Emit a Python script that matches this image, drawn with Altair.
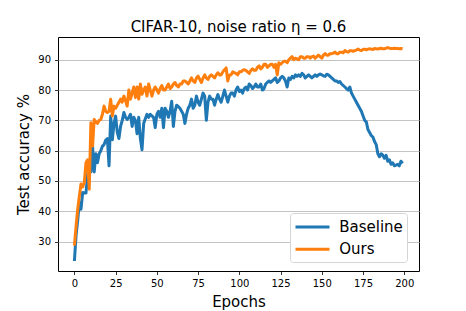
import altair as alt
import pandas as pd

epochs = list(range(200))

baseline = [
    23.6, 32, 37, 43, 40.7, 46.2, 46, 46, 52, 55,
    53, 61.5, 53, 59, 56, 59, 60, 61.5, 62, 63.5,
    64, 55, 71.4, 63.6, 69, 71.4, 66, 64, 68, 70,
    72.6, 71, 70.3, 71, 72, 68, 71, 70, 65.6, 71,
    64, 60.3, 69, 70.5, 72, 71, 72, 71.5, 71, 67.6,
    72, 73, 71, 74, 67.6, 74, 73, 71, 73, 76.3,
    68, 73, 75, 74.5, 74, 73, 72, 69, 72, 74,
    75, 77, 74, 75, 78, 76, 75, 77, 79, 78,
    70, 76, 78, 77, 77, 75, 77, 78.5, 77, 76,
    78, 80, 78, 76, 78, 79, 79, 78, 80, 81,
    79.5, 80, 79, 80.5, 81, 80, 82, 81.5, 80.5, 81,
    82, 81, 81, 82, 80, 80.5, 82, 82.5, 83, 82.5,
    83, 83.5, 84, 82.5, 83, 84, 84.5, 84, 83, 81,
    84, 83.5, 84.5, 84, 85, 84.5, 85, 84.5, 85.5, 85,
    84, 84.5, 85, 84.5, 84, 84.5, 85, 84.5, 85, 85.3,
    85, 84.7, 84.5, 85.2, 85, 84.5, 84, 83.5, 83, 83,
    82.5, 82.8, 82, 81.5, 81, 80.5, 80, 81, 79, 78,
    77, 76, 75, 74, 73, 71.5, 70, 69.5, 67, 66,
    65, 64.5, 63, 62, 59, 58, 59, 58.5, 57.5, 58.5,
    56.5, 57, 55.5, 56, 55, 55.2, 55.5, 55, 56.5, 55.8,
]

ours = [
    28.7, 35, 40.7, 45, 49, 48, 49.5, 56, 57, 47.3,
    69.2, 61.5, 70.3, 69.5, 69, 70, 70.3, 72, 74.7, 73,
    72.6, 73, 77, 71.4, 74.7, 74, 75, 76, 77, 76,
    78, 76.5, 74.7, 80, 77, 79, 81, 77.5, 81, 77,
    82, 78.6, 80, 81, 78, 82, 80, 78, 80, 81,
    80, 79, 80.5, 81.5, 80, 80, 81, 82, 80.5, 81,
    82, 82.5, 81.5, 81, 82, 82, 83, 83, 82.5, 82,
    83, 84, 83, 82.5, 84, 84.6, 83.5, 82.5, 84, 85,
    84, 83.5, 84.5, 85, 84.5, 84, 85, 85.7, 85, 85,
    86, 86.7, 87.3, 83, 85, 85, 86, 85.7, 85.5, 85,
    86, 86, 86.5, 86.7, 86.5, 86, 85.5, 86.5, 87, 86.5,
    86.5, 87.5, 88, 87, 87.5, 88.5, 88.5, 87.5, 88, 88.5,
    88.5, 87.5, 88.5, 85, 89, 88.5, 89, 89.5, 89.5, 89,
    90, 90.5, 91, 90, 90.5, 90.3, 90, 91, 91, 90.5,
    90.5, 91, 91, 90.5, 91, 91.2, 90.5, 91, 91.5, 91,
    90.5, 91.5, 92, 91.5, 91.5, 92, 92, 92.2, 92.5, 92,
    92, 92.5, 92.5, 92.3, 93, 92.7, 92.5, 93, 93, 92.8,
    93, 93.2, 93.5, 93.2, 93, 93.4, 93.5, 93.3, 93.5, 93.6,
    93.5, 93.4, 93.7, 93.6, 93.5, 93.7, 93.8, 93.6, 93.6, 93.8,
    94, 93.8, 93.7, 93.7, 93.8, 93.7, 93.7, 93.6, 93.7, 93.6,
]

series_names = ["Baseline", "Ours"]
series_colors = ["#1f77b4", "#ff7f0e"]
x_ticks = [0, 25, 50, 75, 100, 125, 150, 175, 200]
y_ticks = [30, 40, 50, 60, 70, 80, 90]

df = pd.DataFrame({
    "epoch": epochs + epochs,
    "acc": baseline + ours,
    "series": ["Baseline"] * len(epochs) + ["Ours"] * len(epochs),
    "order": [0] * len(epochs) + [1] * len(epochs),
})

FONT = "DejaVu Sans"

chart = alt.Chart(df).mark_line(strokeWidth=3, strokeJoin="round").encode(
    x=alt.X(
        "epoch:Q",
        scale=alt.Scale(domain=[-9.95, 208.95], nice=False, zero=False),
        axis=alt.Axis(
            values=x_ticks, title="Epochs", grid=False, domain=False,
            tickColor="black", tickSize=3.5, tickWidth=0.8,
            labelFont=FONT, labelFontSize=10, labelColor="black", labelPadding=4,
            titleFont=FONT, titleFontSize=15, titleFontWeight="normal", titleColor="black",
            titleX=180.5, titleY=35.7, titleBaseline="alphabetic", titleAlign="center",
        ),
    ),
    y=alt.Y(
        "acc:Q",
        scale=alt.Scale(domain=[20.3, 97.5], nice=False, zero=False),
        axis=alt.Axis(
            values=y_ticks, title="Test accuracy %", grid=True, domain=False,
            gridColor="#c4c4c4", gridWidth=1,
            tickColor="black", tickSize=3.5, tickWidth=0.8,
            labelFont=FONT, labelFontSize=10, labelColor="black", labelPadding=4,
            titleFont=FONT, titleFontSize=15, titleFontWeight="normal", titleColor="black",
            titleX=-29.8, titleY=117, titleAngle=270, titleBaseline="alphabetic",
            titleAlign="center",
        ),
    ),
    color=alt.Color(
        "series:N",
        scale=alt.Scale(domain=series_names, range=series_colors),
        legend=alt.Legend(
            title=None, orient="none", legendX=232, legendY=176,
            symbolType="M-2,0H2", symbolSize=289, symbolStrokeWidth=3,
            symbolOffset=8.5,
            labelFont=FONT, labelFontSize=15, labelColor="black", labelOffset=16.7,
            fillColor="white", strokeColor="#d4d4d4", cornerRadius=3, padding=4,
            rowPadding=4.2,
        ),
    ),
    order="order:Q",
).properties(
    width=361,
    height=234,
    title=alt.TitleParams(
        "CIFAR-10, noise ratio η = 0.6",
        font=FONT, fontSize=15, fontWeight="normal", color="black",
        anchor="middle", baseline="alphabetic", offset=5, dy=14.7,
    ),
    autosize=alt.AutoSizeParams(type="none"),
    padding={"left": 50, "top": 29, "right": 30, "bottom": 40},
).configure_view(
    stroke="black", strokeWidth=1,
)

chart.save("out.html", embed_options={"renderer": "svg", "actions": False})
